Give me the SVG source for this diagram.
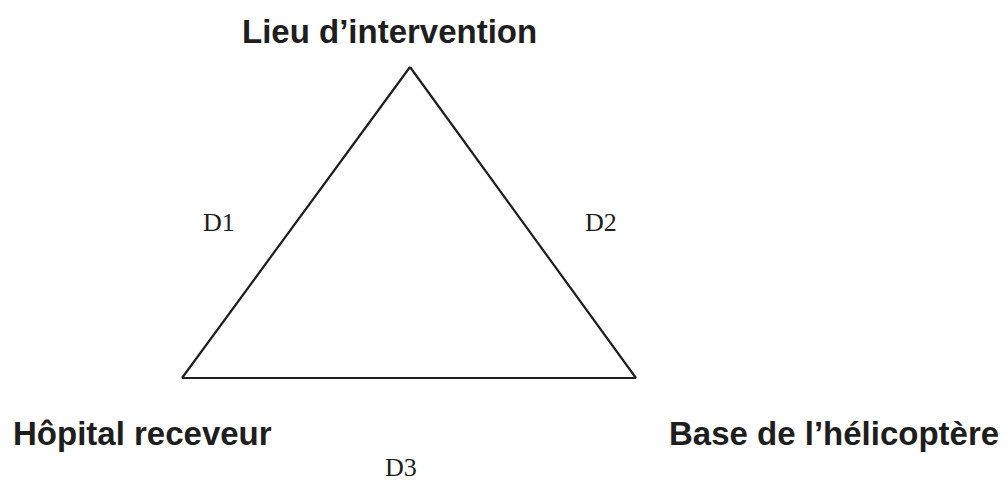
<svg xmlns="http://www.w3.org/2000/svg" width="1007" height="481" viewBox="0 0 1007 481">
<style>
.lbl{font-family:"Liberation Sans",Arial,sans-serif;font-weight:bold;font-size:33px;fill:#1e1e1e}
.d{font-family:"Liberation Serif","Times New Roman",serif;font-size:26px;fill:#1e1e1e}
.edge{stroke:#1e1e1e;stroke-width:2.2;fill:none;stroke-linejoin:miter}
</style>
<rect width="1007" height="481" fill="#ffffff"/>
<g id="connectors">
<path class="edge" d="M410,67 L182,378"/>
<path class="edge" d="M410,67 L636,378"/>
<path class="edge" d="M182,378 L636,378"/>
<text class="d" x="385" y="476">D3</text>
<text class="d" x="203" y="231">D1</text>
<text class="d" x="585" y="231">D2</text>
</g>
<g id="lieu"><text class="lbl" x="242" y="43">Lieu d’intervention</text></g>
<g id="hopital"><text class="lbl" x="13" y="445">Hôpital receveur</text></g>
<g id="base"><text class="lbl" x="669" y="445">Base de l’hélicoptère</text></g>
</svg>
